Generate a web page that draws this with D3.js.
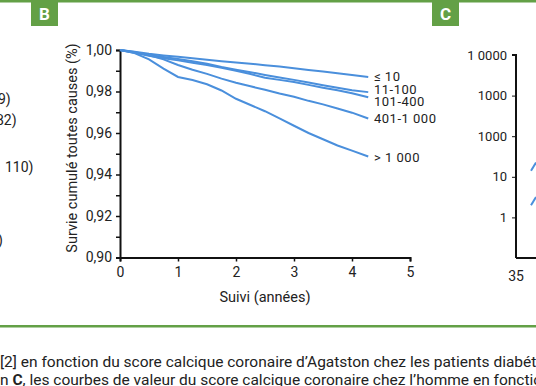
<!DOCTYPE html>
<html>
<head>
<meta charset="utf-8">
<script src="https://cdn.jsdelivr.net/npm/d3@7"></script>
<style>
  body { margin: 0; background: #fff; }
  svg text { font-family: Roboto, "DejaVu Sans", sans-serif; fill: #222; }
</style>
</head>
<body>
<div id="chart"></div>
<script>
// follow-up times (years)
const years = [0, 0.25, 0.5, 0.75, 1, 1.25, 1.5, 1.75, 2, 2.25, 2.5, 2.75, 3, 3.25, 3.5, 3.75, 4, 4.28];

// cumulative survival per Agatston score group
const groups = ["≤ 10", "11-100", "101-400", "401-1 000", "> 1 000"];
const s10    = [1, 0.9992, 0.9982, 0.9974, 0.9967, 0.996, 0.9953, 0.9946, 0.994, 0.9934, 0.9927, 0.992, 0.9912, 0.9904, 0.9896, 0.9888, 0.9879, 0.987];
const s100   = [1, 0.9988, 0.9976, 0.9966, 0.9957, 0.9946, 0.9934, 0.9918, 0.9905, 0.9893, 0.988, 0.9868, 0.9856, 0.9843, 0.983, 0.9818, 0.9806, 0.9797];
const s400   = [1, 0.9987, 0.9972, 0.996, 0.995, 0.9939, 0.9928, 0.9914, 0.99, 0.9884, 0.9866, 0.9856, 0.9846, 0.9832, 0.9818, 0.9806, 0.9792, 0.9772];
const s1000  = [1, 0.999, 0.9975, 0.9955, 0.9928, 0.9905, 0.9885, 0.9862, 0.9842, 0.9825, 0.9808, 0.979, 0.9775, 0.9755, 0.9738, 0.9718, 0.9698, 0.967];
const sOver  = [1, 0.9985, 0.9955, 0.991, 0.987, 0.9855, 0.9835, 0.9805, 0.9765, 0.9735, 0.9705, 0.967, 0.9635, 0.96, 0.957, 0.954, 0.9515, 0.9487];
const series = [s10, s100, s400, s1000, sOver];

const xTicks = [0, 1, 2, 3, 4, 5];
const yTicks = [0.90, 0.92, 0.94, 0.96, 0.98, 1.00];
const yMinor = [0.91, 0.93, 0.95, 0.97, 0.99];

// panel C (cut off on the right)
const cTickLabels = ["1 0000", "1000", "1000", "10", "1"];
const cTickVals = [4, 3, 2, 1, 0];

// left panel labels, partly visible
const leftLabels = ["9)", "82)", "110)", ")"];

const W = 536, H = 386;
const green = "#63a046";
const blue = "#4a8fdc";
const fs = "14px";

const svg = d3.select("#chart").append("svg")
    .attr("width", W)
    .attr("height", H);

// top green rule and panel letters
svg.append("rect").attr("x", 0).attr("y", 0).attr("width", W).attr("height", 2.5).attr("fill", green);
[["B", 31], ["C", 432]].forEach(([t, x]) => {
    svg.append("rect").attr("x", x).attr("y", 0).attr("width", 27).attr("height", 26).attr("fill", green);
    svg.append("text").attr("x", x + 13.5).attr("y", 19.5)
        .attr("text-anchor", "middle")
        .style("font-size", "17px").style("font-weight", "bold").style("fill", "#fff")
        .text(t);
});

// left panel remnants
const leftY = [99, 120, 167, 240];
const leftX = [-2, -4, 5, -2];
leftLabels.forEach((t, i) => {
    svg.append("text").attr("x", leftX[i]).attr("y", leftY[i] + 5)
        .style("font-size", fs).text(t);
});

// panel B
const x = d3.scaleLinear().domain([0, 5]).range([120, 410]);
const y = d3.scaleLinear().domain([0.90, 1.00]).range([257.5, 50]);
const fmt = d => d3.format(".2f")(d).replace(".", ",");

const gx = svg.append("g").attr("transform", `translate(0,${y(0.90)})`)
    .call(d3.axisBottom(x).tickValues(xTicks).tickSize(4).tickPadding(6).tickFormat(d3.format("d")));
const gy = svg.append("g").attr("transform", `translate(${x(0)},0)`)
    .call(d3.axisLeft(y).tickValues(yTicks).tickSize(4).tickPadding(4).tickFormat(fmt));
svg.append("g").attr("transform", `translate(${x(0)},0)`)
    .call(d3.axisLeft(y).tickValues(yMinor).tickSize(4).tickFormat(""))
    .select(".domain").remove();

svg.selectAll(".domain").attr("stroke", "#111").attr("stroke-width", 2);
svg.selectAll(".tick line").attr("stroke", "#111").attr("stroke-width", 1.5);
gx.selectAll("text").style("font-size", fs).style("fill", "#222");
gy.selectAll("text").style("font-size", fs).style("fill", "#222");

svg.append("text").attr("x", 265).attr("y", 302)
    .attr("text-anchor", "middle").style("font-size", "14.5px")
    .text("Suivi (années)");
svg.append("text")
    .attr("transform", `translate(77,${148}) rotate(-90)`)
    .attr("text-anchor", "middle").style("font-size", "14.5px")
    .text("Survie cumulé toutes  causes (%)");

const line = d3.line().x((d, i) => x(years[i])).y(d => y(d));
series.forEach(s => {
    svg.append("path").datum(s)
        .attr("d", line)
        .attr("fill", "none")
        .attr("stroke", blue)
        .attr("stroke-width", 2);
});

// group labels next to the curve ends
const labelY = [76, 89, 101, 118, 157];
groups.forEach((g, i) => {
    svg.append("text").attr("x", 374).attr("y", labelY[i] + 4.5)
        .style("font-size", "13px").style("letter-spacing", "0.5px").text(g);
});

// panel C fragment
const yc = d3.scaleLinear().domain([-1, 4]).range([258, 55]);
const gc = svg.append("g").attr("transform", "translate(516,0)")
    .call(d3.axisLeft(yc).tickValues(cTickVals).tickSize(4).tickPadding(5)
        .tickFormat((d, i) => cTickLabels[i]));
gc.select(".domain").attr("d", `M-4,${yc(4)}H0V${yc(-1)}`);
gc.selectAll("text").style("font-size", "13px").style("fill", "#222");
svg.append("line").attr("class", "caxis").attr("x1", 516).attr("x2", W).attr("y1", yc(-1)).attr("y2", yc(-1));
svg.append("text").attr("x", 516).attr("y", 281).attr("text-anchor", "middle")
    .style("font-size", fs).text("35");
svg.selectAll(".domain, line").attr("stroke", "#111");
gc.selectAll(".domain").attr("stroke-width", 2).attr("fill", "none");
svg.select(".caxis").attr("stroke-width", 2);

const cStubs = [[1.15, 1.35], [0.3, 0.5]];
cStubs.forEach(s => {
    svg.append("line").attr("x1", 531).attr("x2", W).attr("y1", yc(s[0])).attr("y2", yc(s[1]))
        .attr("stroke", blue).attr("stroke-width", 2);
});

// bottom rule and caption
svg.append("rect").attr("x", 0).attr("y", 325).attr("width", W).attr("height", 2.5).attr("fill", green);
svg.append("text").attr("x", 0).attr("y", 367).style("font-size", "15.5px")
    .text("[2] en fonction du score calcique coronaire d’Agatston chez les patients diabétiques");
const cap2 = svg.append("text").attr("x", 0).attr("y", 385).style("font-size", "15.5px");
cap2.append("tspan").text("n ");
cap2.append("tspan").style("font-weight", "bold").text("C");
cap2.append("tspan").text(", les courbes de valeur du score calcique coronaire chez l’homme en fonction");
</script>
</body>
</html>
